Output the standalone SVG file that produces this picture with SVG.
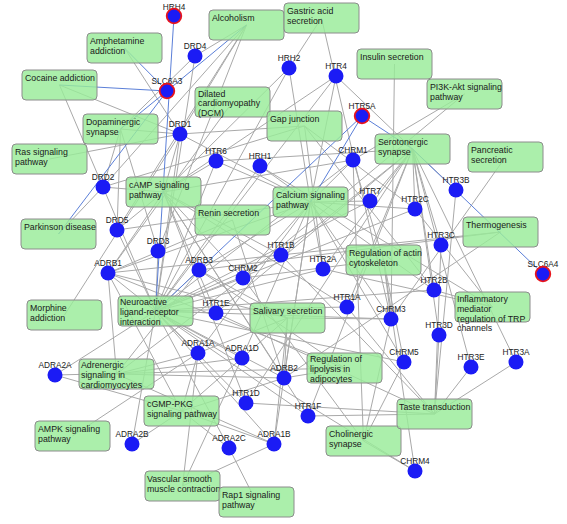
<svg xmlns="http://www.w3.org/2000/svg" width="567" height="524" viewBox="0 0 567 524">
<style>
.e{fill:none;stroke:#a9a9a9;stroke-width:1}
.eb{fill:none;stroke:#5b7fd8;stroke-width:1}
.box{fill:#98ec98;fill-opacity:.82;stroke:#8c8c8c;stroke-width:1}
.bt{font-family:"Liberation Sans",Arial,sans-serif;font-size:8.8px;fill:#1a1a1a}
.gl{font-family:"Liberation Sans",Arial,sans-serif;font-size:8.3px;fill:#222;text-anchor:middle}
.gc{fill:#1b1bf5}
.q{stroke:#e8141c;stroke-width:1.8}
</style>
<rect width="567" height="524" fill="#fff"/>
<g id="connectors">
<path class="e" d="M155.5 311L195 56M155.5 311L180 134M155.5 311L289 68M155.5 311L336 76M155.5 311L216 161M155.5 311L260 166M155.5 311L353 160M155.5 311L103 187M155.5 311L117 230M155.5 311L158 251M155.5 311L108 273M155.5 311L199 270M155.5 311L243 278M155.5 311L281 255M155.5 311L323 269M155.5 311L370 201M155.5 311L415 209M155.5 311L434 290M155.5 311L391 319M155.5 311L347 307M155.5 311L216 313M155.5 311L404 362M155.5 311L198 353M155.5 311L242 358M155.5 311L284 378M155.5 311L246 403M155.5 311L308 416M155.5 311L229 448M155.5 311L274 444M155.5 311L55 375M155.5 311L132 444M155.5 311L415 471"/>
<path class="e" d="M310.5 202L260 166M310.5 202L289 68M310.5 202L180 134M310.5 202L117 230M310.5 202L198 353M310.5 202L274 444M310.5 202L242 358M310.5 202L108 273M310.5 202L284 378M310.5 202L199 270M310.5 202L353 160M310.5 202L243 278M310.5 202L391 319M310.5 202L404 362M310.5 202L323 269M310.5 202L434 290M310.5 202L415 209M310.5 202L336 76M310.5 202L216 161M310.5 202L370 201"/>
<path class="e" d="M163.5 192L180 134M163.5 192L103 187M163.5 192L117 230M163.5 192L108 273M163.5 192L284 378M163.5 192L353 160M163.5 192L243 278M163.5 192L347 307M163.5 192L281 255M163.5 192L246 403M163.5 192L216 313M163.5 192L308 416M163.5 192L336 76M163.5 192L216 161M163.5 192L289 68"/>
<path class="e" d="M412.5 149L347 307M412.5 149L281 255M412.5 149L246 403M412.5 149L216 313M412.5 149L308 416M412.5 149L323 269M412.5 149L434 290M412.5 149L415 209M412.5 149L516 362M412.5 149L456 190M412.5 149L441 245M412.5 149L439 335M412.5 149L471 367M412.5 149L336 76M412.5 149L216 161M412.5 149L370 201"/>
<path class="e" d="M120.5 129L180 134M120.5 129L103 187M120.5 129L158 251M120.5 129L195 56M120.5 129L117 230M59.5 85L180 134M59.5 85L103 187M124.5 48L180 134M246.5 25L180 134M246.5 25L103 187M246.5 25L158 251M246.5 25L195 56M246.5 25L117 230M58.5 234L103 187M64.5 315L180 134M49.5 159L180 134"/>
<path class="e" d="M256.5 502L229 448M72.5 436L198 353M116.5 374L198 353M116.5 374L274 444M116.5 374L242 358M116.5 374L108 273M116.5 374L284 378M116.5 374L199 270M116.5 374L243 278M181.5 411L198 353M181.5 411L274 444M181.5 411L242 358M181.5 411L55 375M181.5 411L132 444M181.5 411L229 448M181.5 411L108 273M181.5 411L284 378M182.5 486L198 353M182.5 486L274 444M182.5 486L242 358"/>
<path class="e" d="M287.5 318L198 353M287.5 318L274 444M287.5 318L242 358M287.5 318L108 273M287.5 318L284 378M287.5 318L199 270M287.5 318L391 319M321.5 18L289 68M321.5 18L391 319M394.5 64L391 319M505.5 157L391 319M464.5 94L353 160M464.5 94L243 278M500.5 232L108 273M500.5 232L284 378M500.5 232L199 270M492.5 307L260 166M492.5 307L323 269M492.5 307L434 290M492.5 307L415 209M344.5 368L55 375M344.5 368L108 273M344.5 368L284 378M344.5 368L199 270"/>
<path class="e" d="M363.5 441L353 160M363.5 441L243 278M363.5 441L391 319M363.5 441L415 471M363.5 441L404 362M434.5 414L516 362M434.5 414L456 190M434.5 414L441 245M434.5 414L439 335M434.5 414L471 367M434.5 414L347 307M434.5 414L281 255M434.5 414L246 403M434.5 414L216 313M434.5 414L308 416M304.5 126L180 134M304.5 126L103 187M304.5 126L323 269M304.5 126L434 290M304.5 126L415 209M232.5 102L108 273M232.5 220L108 273M232.5 220L284 378M383.5 260L353 160M383.5 260L243 278M383.5 260L391 319M383.5 260L415 471M383.5 260L404 362"/>
<path class="eb" d="M155.5 311L174 16M155.5 311L362 116M310.5 202L362 116M412.5 149L362 116M412.5 149L543 274M120.5 129L167 91M59.5 85L167 91M124.5 48L167 91M246.5 25L167 91M58.5 234L167 91"/>
</g>
<g id="p-amphetamine"><rect class="box" x="87" y="33" width="75" height="30" rx="4"/><text class="bt" x="90" y="43.5">Amphetamine<tspan x="90" dy="10">addiction</tspan></text></g>
<g id="p-cocaine"><rect class="box" x="22" y="70" width="75" height="30" rx="4"/><text class="bt" x="25" y="80.5">Cocaine addiction</text></g>
<g id="p-dopaminergic"><rect class="box" x="83" y="114" width="75" height="30" rx="4"/><text class="bt" x="86" y="124.5">Dopaminergic<tspan x="86" dy="10">synapse</tspan></text></g>
<g id="p-ras"><rect class="box" x="12" y="144" width="75" height="30" rx="4"/><text class="bt" x="15" y="154.5">Ras signaling<tspan x="15" dy="10">pathway</tspan></text></g>
<g id="p-alcoholism"><rect class="box" x="209" y="10" width="75" height="30" rx="4"/><text class="bt" x="212" y="20.5">Alcoholism</text></g>
<g id="p-gastric"><rect class="box" x="284" y="3" width="75" height="30" rx="4"/><text class="bt" x="287" y="13.5">Gastric acid<tspan x="287" dy="10">secretion</tspan></text></g>
<g id="p-insulin"><rect class="box" x="357" y="49" width="75" height="30" rx="4"/><text class="bt" x="360" y="59.5">Insulin secretion</text></g>
<g id="p-dcm"><rect class="box" x="195" y="87" width="75" height="30" rx="4"/><text class="bt" x="198" y="96.5">Dilated<tspan x="198" dy="9.8">cardiomyopathy</tspan><tspan x="198" dy="9.8">(DCM)</tspan></text></g>
<g id="p-gap"><rect class="box" x="267" y="111" width="75" height="30" rx="4"/><text class="bt" x="270" y="121.5">Gap junction</text></g>
<g id="p-serotonergic"><rect class="box" x="375" y="134" width="75" height="30" rx="4"/><text class="bt" x="378" y="144.5">Serotonergic<tspan x="378" dy="10">synapse</tspan></text></g>
<g id="p-pi3k"><rect class="box" x="427" y="79" width="75" height="30" rx="4"/><text class="bt" x="430" y="89.5">PI3K-Akt signaling<tspan x="430" dy="10">pathway</tspan></text></g>
<g id="p-pancreatic"><rect class="box" x="468" y="142" width="75" height="30" rx="4"/><text class="bt" x="471" y="152.5">Pancreatic<tspan x="471" dy="10">secretion</tspan></text></g>
<g id="p-camp"><rect class="box" x="126" y="177" width="75" height="30" rx="4"/><text class="bt" x="129" y="187.5">cAMP signaling<tspan x="129" dy="10">pathway</tspan></text></g>
<g id="p-parkinson"><rect class="box" x="21" y="219" width="75" height="30" rx="4"/><text class="bt" x="24" y="229.5">Parkinson disease</text></g>
<g id="p-morphine"><rect class="box" x="27" y="300" width="75" height="30" rx="4"/><text class="bt" x="30" y="310.5">Morphine<tspan x="30" dy="10">addiction</tspan></text></g>
<g id="p-neuroactive"><rect class="box" x="118" y="296" width="75" height="30" rx="4"/><text class="bt" x="120" y="305">Neuroactive<tspan x="120" dy="9.8">ligand-receptor</tspan><tspan x="120" dy="9.8">interaction</tspan></text></g>
<g id="p-calcium"><rect class="box" x="273" y="187" width="75" height="30" rx="4"/><text class="bt" x="276" y="197.5">Calcium signaling<tspan x="276" dy="10">pathway</tspan></text></g>
<g id="p-renin"><rect class="box" x="195" y="205" width="75" height="30" rx="4"/><text class="bt" x="198" y="215.5">Renin secretion</text></g>
<g id="p-actin"><rect class="box" x="346" y="245" width="75" height="30" rx="4"/><text class="bt" x="349" y="255.5">Regulation of actin<tspan x="349" dy="10">cytoskeleton</tspan></text></g>
<g id="p-salivary"><rect class="box" x="250" y="303" width="75" height="30" rx="4"/><text class="bt" x="253" y="313.5">Salivary secretion</text></g>
<g id="p-thermogenesis"><rect class="box" x="463" y="217" width="75" height="30" rx="4"/><text class="bt" x="466" y="227.5">Thermogenesis</text></g>
<g id="p-inflammatory"><rect class="box" x="455" y="292" width="75" height="30" rx="4"/><text class="bt" x="457" y="302">Inflammatory<tspan x="457" dy="9.8">mediator</tspan><tspan x="457" dy="9.8">regulation of TRP</tspan><tspan x="457" dy="9.8">channels</tspan></text></g>
<g id="p-adrenergic"><rect class="box" x="79" y="359" width="75" height="30" rx="4"/><text class="bt" x="81" y="368">Adrenergic<tspan x="81" dy="9.8">signaling in</tspan><tspan x="81" dy="9.8">cardiomyocytes</tspan></text></g>
<g id="p-cgmp"><rect class="box" x="144" y="396" width="75" height="30" rx="4"/><text class="bt" x="147" y="406.5">cGMP-PKG<tspan x="147" dy="10">signaling pathway</tspan></text></g>
<g id="p-ampk"><rect class="box" x="35" y="421" width="75" height="30" rx="4"/><text class="bt" x="38" y="431.5">AMPK signaling<tspan x="38" dy="10">pathway</tspan></text></g>
<g id="p-vascular"><rect class="box" x="145" y="471" width="75" height="30" rx="4"/><text class="bt" x="147" y="481.5">Vascular smooth<tspan x="147" dy="10">muscle contraction</tspan></text></g>
<g id="p-lipolysis"><rect class="box" x="307" y="353" width="75" height="30" rx="4"/><text class="bt" x="310" y="362">Regulation of<tspan x="310" dy="9.8">lipolysis in</tspan><tspan x="310" dy="9.8">adipocytes</tspan></text></g>
<g id="p-cholinergic"><rect class="box" x="326" y="426" width="75" height="30" rx="4"/><text class="bt" x="329" y="436.5">Cholinergic<tspan x="329" dy="10">synapse</tspan></text></g>
<g id="p-rap1"><rect class="box" x="219" y="487" width="75" height="30" rx="4"/><text class="bt" x="222" y="497.5">Rap1 signaling<tspan x="222" dy="10">pathway</tspan></text></g>
<g id="p-taste"><rect class="box" x="397" y="399" width="75" height="30" rx="4"/><text class="bt" x="399" y="409.5">Taste transduction</text></g>
<g id="n-HRH4"><text class="gl" x="174" y="10">HRH4</text><circle class="gc q" cx="174" cy="16" r="7.3"/></g>
<g id="n-SLC6A3"><text class="gl" x="167" y="84">SLC6A3</text><circle class="gc q" cx="167" cy="91" r="7.3"/></g>
<g id="n-DRD4"><text class="gl" x="195" y="49">DRD4</text><circle class="gc" cx="195" cy="56" r="7.5"/></g>
<g id="n-DRD1"><text class="gl" x="180" y="127">DRD1</text><circle class="gc" cx="180" cy="134" r="7.5"/></g>
<g id="n-HRH2"><text class="gl" x="289" y="61">HRH2</text><circle class="gc" cx="289" cy="68" r="7.5"/></g>
<g id="n-HTR4"><text class="gl" x="336" y="69">HTR4</text><circle class="gc" cx="336" cy="76" r="7.5"/></g>
<g id="n-HTR5A"><text class="gl" x="362" y="109">HTR5A</text><circle class="gc q" cx="362" cy="116" r="7.3"/></g>
<g id="n-HTR6"><text class="gl" x="216" y="154">HTR6</text><circle class="gc" cx="216" cy="161" r="7.5"/></g>
<g id="n-HRH1"><text class="gl" x="260" y="159">HRH1</text><circle class="gc" cx="260" cy="166" r="7.5"/></g>
<g id="n-CHRM1"><text class="gl" x="353" y="153">CHRM1</text><circle class="gc" cx="353" cy="160" r="7.5"/></g>
<g id="n-DRD2"><text class="gl" x="103" y="180">DRD2</text><circle class="gc" cx="103" cy="187" r="7.5"/></g>
<g id="n-DRD5"><text class="gl" x="117" y="223">DRD5</text><circle class="gc" cx="117" cy="230" r="7.5"/></g>
<g id="n-DRD3"><text class="gl" x="158" y="244">DRD3</text><circle class="gc" cx="158" cy="251" r="7.5"/></g>
<g id="n-ADRB1"><text class="gl" x="108" y="266">ADRB1</text><circle class="gc" cx="108" cy="273" r="7.5"/></g>
<g id="n-ADRB3"><text class="gl" x="199" y="263">ADRB3</text><circle class="gc" cx="199" cy="270" r="7.5"/></g>
<g id="n-CHRM2"><text class="gl" x="243" y="271">CHRM2</text><circle class="gc" cx="243" cy="278" r="7.5"/></g>
<g id="n-HTR1B"><text class="gl" x="281" y="248">HTR1B</text><circle class="gc" cx="281" cy="255" r="7.5"/></g>
<g id="n-HTR2A"><text class="gl" x="323" y="262">HTR2A</text><circle class="gc" cx="323" cy="269" r="7.5"/></g>
<g id="n-HTR7"><text class="gl" x="370" y="194">HTR7</text><circle class="gc" cx="370" cy="201" r="7.5"/></g>
<g id="n-HTR2C"><text class="gl" x="415" y="202">HTR2C</text><circle class="gc" cx="415" cy="209" r="7.5"/></g>
<g id="n-HTR3B"><text class="gl" x="456" y="183">HTR3B</text><circle class="gc" cx="456" cy="190" r="7.5"/></g>
<g id="n-HTR3C"><text class="gl" x="441" y="238">HTR3C</text><circle class="gc" cx="441" cy="245" r="7.5"/></g>
<g id="n-SLC6A4"><text class="gl" x="543" y="267">SLC6A4</text><circle class="gc q" cx="543" cy="274" r="7.3"/></g>
<g id="n-HTR2B"><text class="gl" x="434" y="283">HTR2B</text><circle class="gc" cx="434" cy="290" r="7.5"/></g>
<g id="n-CHRM3"><text class="gl" x="391" y="312">CHRM3</text><circle class="gc" cx="391" cy="319" r="7.5"/></g>
<g id="n-HTR1A"><text class="gl" x="347" y="300">HTR1A</text><circle class="gc" cx="347" cy="307" r="7.5"/></g>
<g id="n-HTR1E"><text class="gl" x="216" y="306">HTR1E</text><circle class="gc" cx="216" cy="313" r="7.5"/></g>
<g id="n-HTR3D"><text class="gl" x="439" y="328">HTR3D</text><circle class="gc" cx="439" cy="335" r="7.5"/></g>
<g id="n-HTR3E"><text class="gl" x="471" y="360">HTR3E</text><circle class="gc" cx="471" cy="367" r="7.5"/></g>
<g id="n-HTR3A"><text class="gl" x="516" y="355">HTR3A</text><circle class="gc" cx="516" cy="362" r="7.5"/></g>
<g id="n-CHRM5"><text class="gl" x="404" y="355">CHRM5</text><circle class="gc" cx="404" cy="362" r="7.5"/></g>
<g id="n-ADRA1A"><text class="gl" x="198" y="346">ADRA1A</text><circle class="gc" cx="198" cy="353" r="7.5"/></g>
<g id="n-ADRA1D"><text class="gl" x="242" y="351">ADRA1D</text><circle class="gc" cx="242" cy="358" r="7.5"/></g>
<g id="n-ADRB2"><text class="gl" x="284" y="371">ADRB2</text><circle class="gc" cx="284" cy="378" r="7.5"/></g>
<g id="n-HTR1D"><text class="gl" x="246" y="396">HTR1D</text><circle class="gc" cx="246" cy="403" r="7.5"/></g>
<g id="n-HTR1F"><text class="gl" x="308" y="409">HTR1F</text><circle class="gc" cx="308" cy="416" r="7.5"/></g>
<g id="n-ADRA2C"><text class="gl" x="229" y="441">ADRA2C</text><circle class="gc" cx="229" cy="448" r="7.5"/></g>
<g id="n-ADRA1B"><text class="gl" x="274" y="437">ADRA1B</text><circle class="gc" cx="274" cy="444" r="7.5"/></g>
<g id="n-ADRA2A"><text class="gl" x="55" y="368">ADRA2A</text><circle class="gc" cx="55" cy="375" r="7.5"/></g>
<g id="n-ADRA2B"><text class="gl" x="132" y="437">ADRA2B</text><circle class="gc" cx="132" cy="444" r="7.5"/></g>
<g id="n-CHRM4"><text class="gl" x="415" y="464">CHRM4</text><circle class="gc" cx="415" cy="471" r="7.5"/></g>
</svg>
